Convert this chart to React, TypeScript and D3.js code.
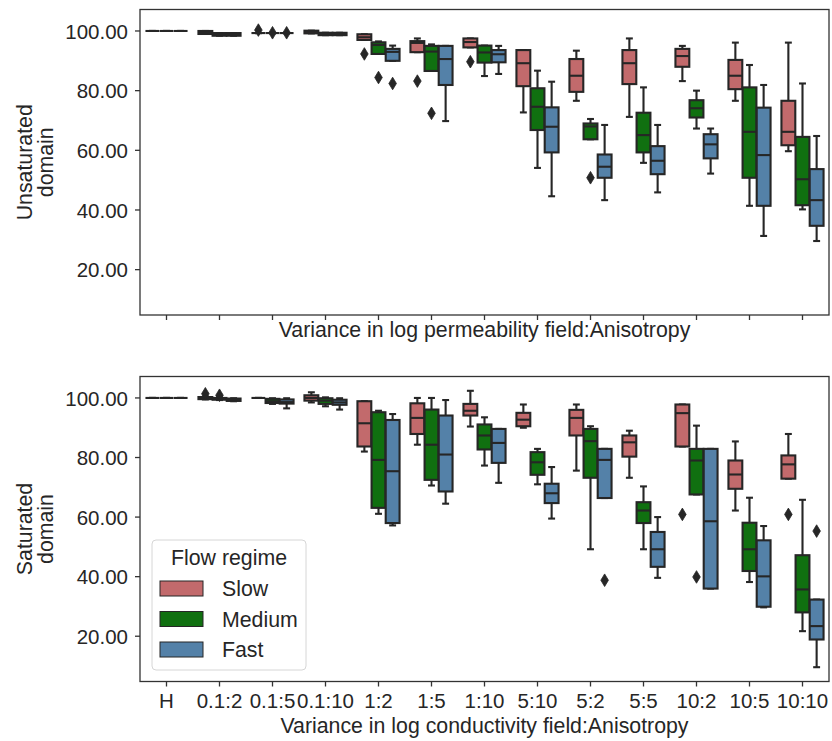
import React from "react";
import * as d3 from "d3";

const categories = ["H", "0.1:2", "0.1:5", "0.1:10", "1:2", "1:5", "1:10", "5:10", "5:2", "5:5", "10:2", "10:5", "10:10"];
const regimes = ["Slow", "Medium", "Fast"];
const regimeColors = ["#c26a6c", "#107010", "#5481a8"];
const yTicks = [20, 40, 60, 80, 100];

// Box statistics per category: [lower whisker, q1, median, q3, upper whisker]
const unsatSlow = [
  [100, 100, 100, 100, 100], [99.0, 99.0, 99.5, 100.0, 100.0], [99.3, 99.3, 99.3, 99.3, 99.3], [99.2, 99.2, 99.7, 100.1, 100.1],
  [97.0, 97.0, 97.9, 98.9, 98.9], [92.9, 92.9, 96.0, 96.6, 97.5], [94.5, 94.5, 96.3, 97.5, 97.5], [72.7, 81.5, 89.2, 93.6, 93.6],
  [76.6, 79.6, 85.0, 90.6, 93.4], [71.2, 82.2, 89.2, 93.6, 97.5], [83.2, 88.0, 91.6, 94.0, 95.0], [76.6, 80.5, 85.0, 90.3, 96.1],
  [59.7, 61.7, 66.2, 76.6, 96.1],
];
const unsatMedium = [
  [100, 100, 100, 100, 100], [98.4, 98.4, 98.9, 99.3, 99.3], [99.3, 99.3, 99.3, 99.3, 99.3], [98.6, 98.6, 99.0, 99.4, 99.4],
  [92.3, 92.3, 95.3, 96.2, 96.5], [86.6, 86.6, 93.1, 95.0, 95.5], [84.9, 89.4, 92.8, 95.1, 95.1], [54.1, 66.8, 74.6, 80.8, 86.7],
  [63.7, 63.7, 68.0, 69.0, 70.5], [55.8, 59.3, 65.1, 72.6, 81.1], [67.3, 71.0, 74.1, 76.8, 80.0], [41.4, 50.8, 66.2, 81.1, 88.6],
  [40.2, 41.6, 50.3, 64.5, 82.4],
];
const unsatFast = [
  [100, 100, 100, 100, 100], [98.4, 98.4, 98.9, 99.3, 99.3], [99.3, 99.3, 99.3, 99.3, 99.3], [98.6, 98.6, 99.0, 99.4, 99.4],
  [90.0, 90.0, 93.0, 94.0, 95.1], [69.8, 81.9, 90.6, 95.0, 95.0], [85.6, 89.5, 92.2, 93.6, 95.0], [44.6, 59.3, 67.9, 74.4, 83.0],
  [43.3, 50.8, 54.5, 58.6, 68.5], [45.9, 52.0, 56.5, 61.4, 68.5], [52.2, 57.3, 62.0, 65.4, 67.3], [31.3, 41.4, 58.4, 74.3, 81.9],
  [29.6, 34.7, 43.3, 53.7, 64.8],
];
// Outliers: [category, regime, value]
const unsatOutliers: [string, string, number][] = [
  ["0.1:5", "Slow", 100.3], ["0.1:5", "Medium", 99.4], ["0.1:5", "Fast", 99.4],
  ["1:2", "Slow", 92.3], ["1:2", "Medium", 84.4], ["1:2", "Fast", 82.4],
  ["1:5", "Slow", 83.2], ["1:5", "Medium", 72.4],
  ["1:10", "Slow", 89.7],
  ["5:2", "Medium", 50.8],
];

const satSlow = [
  [100, 100, 100, 100, 100], [99.5, 99.6, 100.0, 100.3, 100.5], [100, 100, 100, 100, 100], [98.5, 99.1, 100.0, 100.9, 101.9],
  [82.0, 83.7, 91.5, 98.9, 98.9], [84.3, 87.9, 93.3, 98.2, 100.0], [90.4, 94.1, 95.7, 98.0, 102.4], [90.0, 90.5, 92.7, 95.0, 97.8],
  [75.6, 87.4, 93.3, 96.0, 97.8], [73.2, 80.3, 85.1, 87.4, 89.0], [83.7, 83.7, 94.9, 97.8, 97.8], [62.2, 69.5, 74.3, 79.0, 85.4],
  [72.9, 72.9, 77.7, 80.7, 87.9],
];
const satMedium = [
  [100, 100, 100, 100, 100], [99.3, 99.4, 99.7, 100.0, 100.2], [98.0, 98.3, 98.9, 99.7, 99.9], [97.2, 98.0, 99.1, 99.9, 100.2],
  [61.1, 63.1, 79.2, 95.2, 95.7], [70.6, 72.5, 84.3, 96.1, 100.0], [77.3, 82.7, 87.4, 91.1, 93.5], [71.0, 74.2, 78.4, 81.8, 82.9],
  [49.2, 73.2, 85.5, 89.6, 90.5], [49.2, 58.0, 62.2, 65.0, 70.3], [67.6, 67.6, 79.0, 82.9, 90.7], [38.2, 41.9, 49.2, 58.1, 66.5],
  [21.7, 28.0, 35.7, 47.2, 65.8],
];
const satFast = [
  [100, 100, 100, 100, 100], [98.9, 99.0, 99.4, 99.8, 99.9], [96.5, 98.1, 98.6, 99.5, 99.9], [96.1, 97.7, 98.5, 99.4, 99.9],
  [57.2, 58.0, 75.4, 92.6, 94.6], [64.5, 68.6, 81.0, 94.1, 99.3], [71.5, 78.2, 84.9, 89.6, 89.6], [59.5, 64.7, 68.0, 71.2, 76.8],
  [66.4, 66.4, 79.2, 82.9, 82.9], [39.6, 43.3, 49.2, 55.0, 60.0], [36.0, 36.0, 58.6, 82.9, 82.9], [29.7, 29.9, 40.1, 52.2, 57.0],
  [9.6, 18.9, 23.4, 32.3, 32.3],
];
const satOutliers: [string, string, number][] = [
  ["0.1:2", "Slow", 101.4], ["0.1:2", "Medium", 100.9],
  ["5:2", "Fast", 38.8],
  ["10:2", "Slow", 60.9], ["10:2", "Medium", 39.9],
  ["10:10", "Slow", 60.9], ["10:10", "Fast", 55.3],
];

const FONT = "'Liberation Sans', Arial, Helvetica, sans-serif";
const TICK_FS = 20.5;
const LABEL_FS = 21.3;
const EDGE = "#262626";
const SPINE = "#333333";

const X0 = 140;
const X1 = 829;

const x = d3.scaleBand<string>().domain(categories).range([X0, X1]).padding(0);
const hue = d3.scaleBand<string>().domain(regimes).range([-0.4 * x.bandwidth(), 0.4 * x.bandwidth()]).padding(0);
const boxW = hue.bandwidth() * 0.98;

type PanelProps = {
  top: number;
  bottom: number;
  series: number[][][];
  outliers: [string, string, number][];
  yLabel: string[];
  xLabel: string;
  xLabelBaseline: number;
  showTickLabels: boolean;
};

function Panel({ top, bottom, series, outliers, yLabel, xLabel, xLabelBaseline, showTickLabels }: PanelProps) {
  const y = d3.scaleLinear().domain([4.8, 107.2]).range([bottom, top]);
  const cy = (top + bottom) / 2;
  return (
    <g>
      {/* boxes */}
      {regimes.map((r, ri) =>
        series[ri].map((s, ci) => {
          const cx = (x(categories[ci]) as number) + x.bandwidth() / 2 + (hue(r) as number) + hue.bandwidth() / 2;
          const [lo, q1, med, q3, hi] = s;
          const capW = boxW / 2;
          return (
            <g key={`${r}-${ci}`} stroke={EDGE} strokeWidth={2.1}>
              <line x1={cx} x2={cx} y1={y(q1)} y2={y(lo)} />
              <line x1={cx} x2={cx} y1={y(q3)} y2={y(hi)} />
              <line x1={cx - capW / 2} x2={cx + capW / 2} y1={y(lo)} y2={y(lo)} />
              <line x1={cx - capW / 2} x2={cx + capW / 2} y1={y(hi)} y2={y(hi)} />
              <rect x={cx - boxW / 2} width={boxW} y={y(q3)} height={Math.max(0, y(q1) - y(q3))} fill={regimeColors[ri]} />
              <line x1={cx - boxW / 2} x2={cx + boxW / 2} y1={y(med)} y2={y(med)} />
            </g>
          );
        })
      )}
      {/* outliers */}
      {outliers.map(([c, r, v], i) => {
        const cx = (x(c) as number) + x.bandwidth() / 2 + (hue(r) as number) + hue.bandwidth() / 2;
        const py = y(v);
        return (
          <path
            key={i}
            d={`M${cx},${py - 6.3}L${cx + 3.8},${py}L${cx},${py + 6.3}L${cx - 3.8},${py}Z`}
            fill={EDGE}
            stroke={EDGE}
            strokeWidth={0.8}
          />
        );
      })}
      {/* frame */}
      <rect x={X0} y={top} width={X1 - X0} height={bottom - top} fill="none" stroke={SPINE} strokeWidth={1.3} />
      {/* y axis */}
      {yTicks.map((t) => (
        <g key={t}>
          <line x1={X0 - 5} x2={X0} y1={y(t)} y2={y(t)} stroke={SPINE} strokeWidth={1.3} />
          <text x={X0 - 12} y={y(t)} dy="0.37em" textAnchor="end" fontSize={TICK_FS} fontFamily={FONT} fill="#262626">
            {d3.format(".2f")(t)}
          </text>
        </g>
      ))}
      {/* x axis */}
      {categories.map((c) => {
        const cx = (x(c) as number) + x.bandwidth() / 2;
        return (
          <g key={c}>
            <line x1={cx} x2={cx} y1={bottom} y2={bottom + 5} stroke={SPINE} strokeWidth={1.3} />
            {showTickLabels && (
              <text x={cx} y={bottom + 26} textAnchor="middle" fontSize={TICK_FS} fontFamily={FONT} fill="#262626">
                {c}
              </text>
            )}
          </g>
        );
      })}
      <text x={(X0 + X1) / 2} y={xLabelBaseline} textAnchor="middle" fontSize={LABEL_FS} fontFamily={FONT} fill="#262626">
        {xLabel}
      </text>
      {yLabel.map((line, i) => (
        <text
          key={line}
          transform={`translate(${32 + i * 20.5},${cy}) rotate(-90)`}
          textAnchor="middle"
          fontSize={LABEL_FS}
          fontFamily={FONT}
          fill="#262626"
        >
          {line}
        </text>
      ))}
    </g>
  );
}

function Legend() {
  const lx = 152;
  const ly = 540;
  return (
    <g fontFamily={FONT} fontSize={LABEL_FS} fill="#262626">
      <rect x={lx} y={ly} width={154} height={130} rx={4} fill="#ffffff" fillOpacity={0.8} stroke="#d6d6d6" strokeWidth={1} />
      <text x={lx + 77} y={ly + 25} textAnchor="middle">Flow regime</text>
      {regimes.map((r, i) => (
        <g key={r}>
          <rect x={lx + 8} y={ly + 41 + i * 30.5} width={43} height={15} fill={regimeColors[i]} stroke={EDGE} strokeWidth={1} />
          <text x={lx + 70} y={ly + 56 + i * 30.5}>{r}</text>
        </g>
      ))}
    </g>
  );
}

export default function App() {
  return (
    <svg
      width={832}
      height={741}
      viewBox="0 0 832 741"
      style={{ position: "absolute", left: 0, top: 0, background: "#ffffff" }}
    >
      <rect width={832} height={741} fill="#ffffff" />
      <Panel
        top={9.5}
        bottom={315}
        series={[unsatSlow, unsatMedium, unsatFast]}
        outliers={unsatOutliers}
        yLabel={["Unsaturated", "domain"]}
        xLabel="Variance in log permeability field:Anisotropy"
        xLabelBaseline={337}
        showTickLabels={false}
      />
      <Panel
        top={376.5}
        bottom={681.5}
        series={[satSlow, satMedium, satFast]}
        outliers={satOutliers}
        yLabel={["Saturated", "domain"]}
        xLabel="Variance in log conductivity field:Anisotropy"
        xLabelBaseline={733}
        showTickLabels={true}
      />
      <Legend />
    </svg>
  );
}
